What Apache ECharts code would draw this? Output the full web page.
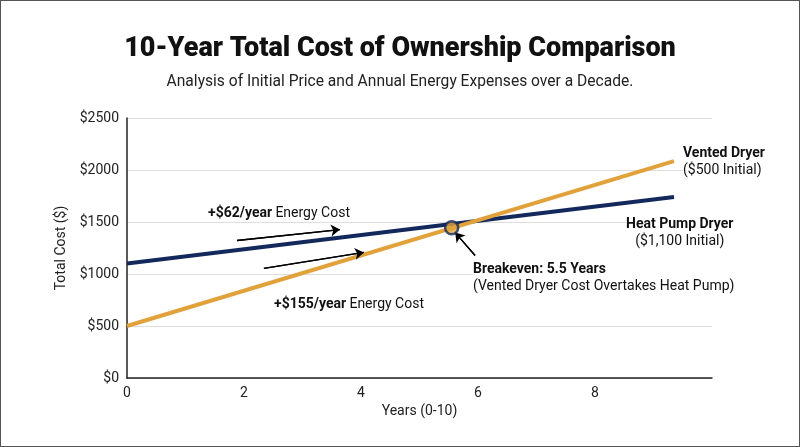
<!DOCTYPE html>
<html><head><meta charset="utf-8">
<script src="https://cdn.jsdelivr.net/npm/echarts@6/dist/echarts.min.js"></script>
<style>html,body{margin:0;padding:0;background:#fff}#c{width:798px;height:445px;border:1px solid #555}</style>
</head><body><div id="c"></div>
<script>
const heatPumpX = [0, 9.35];
const heatPumpY = [1100, 1740];
const ventedX = [0, 9.35];
const ventedY = [500, 2085];
const breakeven = [5.55, 1445];
const arrow62 = [[1.88, 1322], [3.64, 1427]];
const arrow155 = [[2.34, 1054], [4.05, 1207]];
const arrowBE = [[5.95, 1178], [5.61, 1398]];
const yTicks = ['$0','$500','$1000','$1500','$2000','$2500'];
const F = 'Roboto, "Noto Sans", sans-serif';
const chart = echarts.init(document.getElementById('c'));
function arrowLine(p){return {type:'line',data:p,symbol:'none',silent:true,lineStyle:{color:'#000',width:1.3},z:5,
  markLine:{symbol:['none','arrow'],symbolSize:9,silent:true,label:{show:false},lineStyle:{color:'#000',width:1.3,type:'solid'},data:[[{coord:p[0]},{coord:p[1]}]]}};}
const R = {b:{fontWeight:'bold',fontFamily:F,fontSize:14,fill:'#111',lineHeight:17},n:{fontFamily:F,fontSize:14,fill:'#111',lineHeight:17}};
const RC = {b:Object.assign({align:'center'},R.b),n:Object.assign({align:'center'},R.n)};
chart.setOption({
  animation:false,
  title:{text:'10-Year Total Cost of Ownership Comparison',subtext:'Analysis of Initial Price and Annual Energy Expenses over a Decade.',left:'center',top:30,itemGap:11,
    textStyle:{fontFamily:F,fontSize:27,fontWeight:900,color:'#111'},subtextStyle:{fontFamily:F,fontSize:15.6,color:'#222'}},
  grid:{left:126,right:87,top:117,bottom:68},
  xAxis:{type:'value',min:0,max:10,interval:2,name:'Years (0-10)',nameLocation:'middle',nameGap:25,
    nameTextStyle:{fontFamily:F,fontSize:14,color:'#222'},
    axisLabel:{fontFamily:F,fontSize:14,color:'#222',formatter:v=>v>=10?'':v},
    axisLine:{lineStyle:{color:'#222',width:1.5}},axisTick:{show:false},splitLine:{show:false}},
  yAxis:{type:'value',min:0,max:2500,interval:500,name:'Total Cost ($)',nameLocation:'middle',nameGap:52,
    nameTextStyle:{fontFamily:F,fontSize:14,color:'#222'},
    axisLabel:{fontFamily:F,fontSize:14,color:'#222',formatter:v=>yTicks[v/500]},
    axisLine:{show:true,lineStyle:{color:'#222',width:1.5}},axisTick:{show:false},splitLine:{lineStyle:{color:'#ddd'}}},
  series:[
    {type:'line',data:heatPumpX.map((x,i)=>[x,heatPumpY[i]]),symbol:'none',lineStyle:{color:'#13295b',width:4}},
    {type:'line',data:ventedX.map((x,i)=>[x,ventedY[i]]),symbol:'none',lineStyle:{color:'#e2a23b',width:4}},
    {type:'scatter',data:[breakeven],symbolSize:13,itemStyle:{color:'#e2a23b',borderColor:'#13295b',borderWidth:2.5},z:10},
    arrowLine(arrow62),arrowLine(arrow155),arrowLine(arrowBE)
  ],
  graphic:[
    {type:'text',left:207,top:204,z:20,style:{rich:R,text:'{b|+$62/year} {n|Energy Cost}',backgroundColor:'#fff'}},
    {type:'text',left:273,top:295,z:20,style:{rich:R,text:'{b|+$155/year} {n|Energy Cost}',backgroundColor:'#fff'}},
    {type:'text',left:472,top:260,z:20,style:{rich:R,text:'{b|Breakeven: 5.5 Years}\n{n|(Vented Dryer Cost Overtakes Heat Pump)}',backgroundColor:'#fff'}},
    {type:'text',left:682,top:144,z:20,style:{rich:R,text:'{b|Vented Dryer}\n{n|($500 Initial)}',backgroundColor:'#fff'}},
    {type:'text',left:625,top:215,z:20,style:{rich:RC,text:'{b|Heat Pump Dryer}\n{n|($1,100 Initial)}',align:'center',backgroundColor:'#fff'}}
  ]
});
</script></body></html>
